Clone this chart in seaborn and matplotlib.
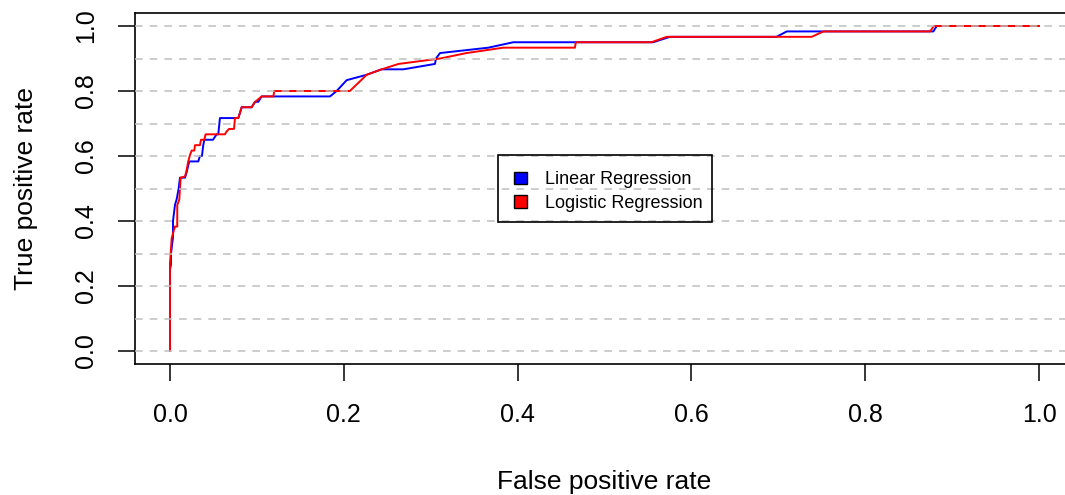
import matplotlib
matplotlib.use("Agg")
import matplotlib.pyplot as plt
import seaborn as sns
import pandas as pd
from matplotlib.patches import Patch, Rectangle

# ---- data ----
models = ["Linear Regression", "Logistic Regression"]
colors = ["#0000FF", "#FF0000"]

lin_fpr = [0.0, 0.0, 0.0012, 0.0012, 0.0035, 0.0035, 0.0058, 0.0077, 0.0100, 0.0115,
           0.0173, 0.0192, 0.0222, 0.0326, 0.0345, 0.0368, 0.0383, 0.0395, 0.0495, 0.0537,
           0.0556, 0.0575, 0.0786, 0.0806, 0.0825, 0.0940, 0.0978, 0.1016, 0.1055, 0.1841,
           0.1918, 0.2033, 0.2264, 0.2436, 0.2685, 0.3049, 0.3061, 0.3107, 0.3663, 0.3950,
           0.5560, 0.5754, 0.6980, 0.7097, 0.8784, 0.8823, 1.0]
lin_tpr = [0.0, 0.25, 0.2667, 0.30, 0.35, 0.40, 0.45, 0.4667, 0.50, 0.5333,
           0.5333, 0.55, 0.5833, 0.5833, 0.60, 0.60, 0.6333, 0.65, 0.65, 0.6667,
           0.6667, 0.7167, 0.7167, 0.7333, 0.75, 0.75, 0.7667, 0.7667, 0.7833, 0.7833,
           0.80, 0.8333, 0.85, 0.8667, 0.8667, 0.8833, 0.90, 0.9167, 0.9333, 0.95,
           0.95, 0.9667, 0.9667, 0.9833, 0.9833, 1.0, 1.0]

log_fpr = [0.0, 0.0, 0.0020, 0.0030, 0.0058, 0.0084, 0.0084, 0.0107, 0.0123, 0.0173,
           0.0192, 0.0210, 0.0230, 0.0250, 0.0280, 0.0288, 0.0345, 0.0357, 0.0395, 0.0410,
           0.0633, 0.0650, 0.0680, 0.0737, 0.0748, 0.0786, 0.0806, 0.0825, 0.0940, 0.0980,
           0.1055, 0.1190, 0.1200, 0.2070, 0.2264, 0.2436, 0.2630, 0.3110, 0.3410, 0.3835,
           0.4660, 0.4670, 0.5540, 0.5716, 0.7384, 0.7520, 0.8746, 0.8790, 1.0]
log_tpr = [0.0, 0.27, 0.347, 0.357, 0.383, 0.383, 0.449, 0.465, 0.5333, 0.5367,
           0.557, 0.5833, 0.603, 0.6167, 0.6167, 0.6333, 0.6333, 0.65, 0.65, 0.6667,
           0.6667, 0.675, 0.6833, 0.6833, 0.7167, 0.7167, 0.7333, 0.75, 0.75, 0.7667,
           0.7833, 0.7833, 0.80, 0.80, 0.85, 0.8667, 0.8833, 0.90, 0.9167, 0.9333,
           0.9333, 0.95, 0.95, 0.9667, 0.9667, 0.9833, 0.9833, 1.0, 1.0]

x_ticks = [0.0, 0.2, 0.4, 0.6, 0.8, 1.0]
y_ticks = [0.0, 0.2, 0.4, 0.6, 0.8, 1.0]
grid_levels = [0.0, 0.1, 0.2, 0.3, 0.4, 0.5, 0.6, 0.7, 0.8, 0.9, 1.0]

x_label = "False positive rate"
y_label = "True positive rate"

# ---- build data ----
df = pd.concat([
    pd.DataFrame({"fpr": lin_fpr, "tpr": lin_tpr, "model": models[0]}),
    pd.DataFrame({"fpr": log_fpr, "tpr": log_tpr, "model": models[1]}),
], ignore_index=True)

sns.set_style("white")
plt.rcParams["font.family"] = ["Liberation Sans", "DejaVu Sans"]
for k in ["text.color", "axes.labelcolor", "xtick.color", "ytick.color"]:
    plt.rcParams[k] = "black"

W, H = 1065, 495
fig = plt.figure(figsize=(W / 100, H / 100), dpi=100)
ax = fig.add_axes([135.2 / W, 1 - 364 / H, 938.6 / W, 351 / H])

sns.lineplot(data=df, x="fpr", y="tpr", hue="model", hue_order=models,
             palette=dict(zip(models, colors)), sort=False, estimator=None,
             linewidth=1.4, legend=False, ax=ax, zorder=2)

for g in grid_levels:
    ax.axhline(g, color="#BEBEBE", linewidth=1.1, linestyle=(0, (5, 4.6)), zorder=3)

ax.set_xlim(-0.04, 1.04)
ax.set_ylim(-0.04, 1.04)
ax.set_xticks(x_ticks)
ax.set_yticks(y_ticks)
ax.set_xticklabels([f"{v:.1f}" for v in x_ticks], fontsize=18)
ax.set_yticklabels([f"{v:.1f}" for v in y_ticks], fontsize=18, rotation=90, va="center")
ax.tick_params(axis="both", direction="out", length=12, width=1.1, color="black",
               left=True, bottom=True)
ax.tick_params(axis="x", pad=16)
ax.tick_params(axis="y", pad=15)

for side in ["left", "bottom", "top"]:
    ax.spines[side].set_visible(True)
    ax.spines[side].set_color("black")
    ax.spines[side].set_linewidth(1.2)
ax.spines["right"].set_visible(False)

ax.set_xlabel(x_label, fontsize=19, labelpad=31)
ax.set_ylabel(y_label, fontsize=19, labelpad=26)

# legend box (drawn as a plain rectangle, like R's legend frame)
fig.patches.append(Rectangle((498 / W, 1 - 222 / H), (712 - 498) / W, (222 - 155) / H,
                             transform=fig.transFigure, fill=False,
                             edgecolor="black", linewidth=1.2, zorder=5))

handles = [Patch(facecolor=c, edgecolor="black", linewidth=1.0) for c in colors]
leg = ax.legend(handles, models, loc="upper left",
                bbox_to_anchor=((498 - 135.2) / 938.6, (364 - 155) / 351),
                borderaxespad=0, fontsize=13, handlelength=0.7, handleheight=0.7,
                handletextpad=1.0, borderpad=0.9, labelspacing=0.35,
                frameon=False)
leg.set_zorder(5)

fig.savefig("out.png", dpi=100)
